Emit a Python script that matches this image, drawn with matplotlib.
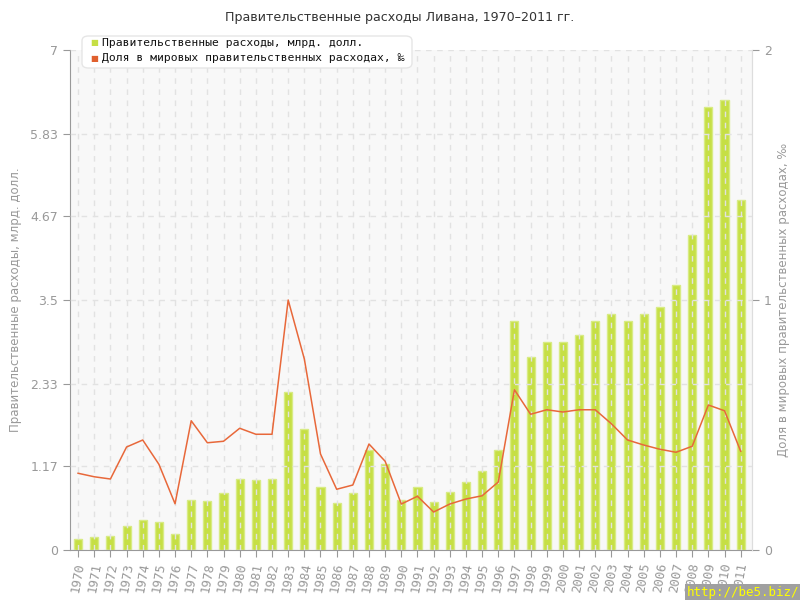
import matplotlib.pyplot as plt
from matplotlib.patches import FancyBboxPatch

years = list(range(1970, 2012))

# Government spending, bln USD (left axis)
spending = [0.16, 0.18, 0.20, 0.34, 0.42, 0.39, 0.23, 0.70, 0.69, 0.80,
            1.00, 0.98, 1.00, 2.21, 1.70, 0.88, 0.66, 0.80, 1.40, 1.21,
            0.70, 0.88, 0.67, 0.81, 0.95, 1.11, 1.40, 3.21, 2.70, 2.91,
            2.91, 3.01, 3.21, 3.30, 3.21, 3.30, 3.40, 3.71, 4.41, 6.20,
            6.30, 4.90]

# Share of world government spending, per mille (right axis)
share = [0.307, 0.293, 0.284, 0.412, 0.440, 0.343, 0.185, 0.517, 0.429, 0.435,
         0.487, 0.463, 0.463, 1.000, 0.764, 0.384, 0.243, 0.260, 0.424, 0.355,
         0.184, 0.215, 0.152, 0.184, 0.204, 0.217, 0.272, 0.641, 0.543, 0.561,
         0.552, 0.561, 0.561, 0.505, 0.440, 0.420, 0.403, 0.391, 0.415, 0.580,
         0.557, 0.395]

left_ticks = [0, 1.17, 2.33, 3.5, 4.67, 5.83, 7]
left_labels = ['0', '1.17', '2.33', '3.5', '4.67', '5.83', '7']
right_ticks = [0, 1, 2]

title = 'Правительственные расходы Ливана, 1970–2011 гг.'
label_bars = 'Правительственные расходы, млрд. долл.'
label_line = 'Доля в мировых правительственных расходах, ‰'

mono = 'DejaVu Sans Mono'
gray = '#999999'

fig = plt.figure(figsize=(8, 6), dpi=100)
ax = fig.add_axes([0.0875, 0.0833, 0.8525, 0.8334])
ax.set_facecolor('#f8f8f8')

x = list(range(len(years)))
ax.bar(x, spending, width=0.5, color='#c6df45', edgecolor='#d8eb84',
       linewidth=1, zorder=2)

ax.set_xlim(-0.5, len(years) - 0.3)
ax.set_ylim(0, 7)
ax.set_yticks(left_ticks)
ax.set_yticklabels(left_labels)
ax.set_xticks(x)
ax.set_xticklabels([str(y) for y in years], rotation=80, ha='center',
                   fontfamily=mono, fontsize=9)
ax.tick_params(axis='both', colors=gray, labelcolor=gray, length=5)
ax.tick_params(axis='y', labelsize=9)
ax.grid(True, color='#e2e2e2', linestyle=(0, (4, 4)), linewidth=1, zorder=3)
ax.set_axisbelow(False)
ax.spines['top'].set_visible(False)
ax.spines['left'].set_color(gray)
ax.spines['bottom'].set_color(gray)
ax.spines['right'].set_color('#dddddd')
ax.set_ylabel(label_bars, color=gray, fontsize=8.5, labelpad=6)

ax2 = ax.twinx()
ax2.plot(x, share, color='#e8683a', linewidth=1.1, zorder=4)
ax2.set_ylim(0, 2)
ax2.set_yticks(right_ticks)
ax2.tick_params(axis='y', colors=gray, labelcolor=gray, length=5, labelsize=9)
for s in ['top', 'left', 'bottom']:
    ax2.spines[s].set_visible(False)
ax2.spines['right'].set_color('#dddddd')
ax2.set_ylabel(label_line, color=gray, fontsize=8.5, labelpad=4)

fig.text(0.5, 0.97, title, ha='center', va='center', fontsize=9.1, color='#333333')

# legend box
box = FancyBboxPatch((82 / 800, 1 - 68 / 600), 330 / 800, 32 / 600,
                     boxstyle='round,pad=0,rounding_size=0.008',
                     transform=fig.transFigure, facecolor='white',
                     edgecolor='#e6e6e6', linewidth=1, zorder=10)
fig.patches.append(box)
fig.text(90 / 800, 1 - 43 / 600, '■', color='#c6df45', fontsize=6,
         va='center', ha='left', zorder=11)
fig.text(102 / 800, 1 - 43 / 600, label_bars, color='#111111', fontsize=8.2,
         fontfamily=mono, va='center', ha='left', zorder=11)
fig.text(90 / 800, 1 - 58 / 600, '■', color='#e0602e', fontsize=6,
         va='center', ha='left', zorder=11)
fig.text(102 / 800, 1 - 58 / 600, label_line, color='#111111', fontsize=8.2,
         fontfamily=mono, va='center', ha='left', zorder=11)

# watermark
fig.text(0.999, 0.001, 'http://be5.biz/', color='#ffff00', fontsize=9,
         fontfamily=mono, ha='right', va='bottom',
         bbox=dict(facecolor='#a0a0a0', edgecolor='none', pad=1.5))

fig.savefig('out.png', dpi=100)
